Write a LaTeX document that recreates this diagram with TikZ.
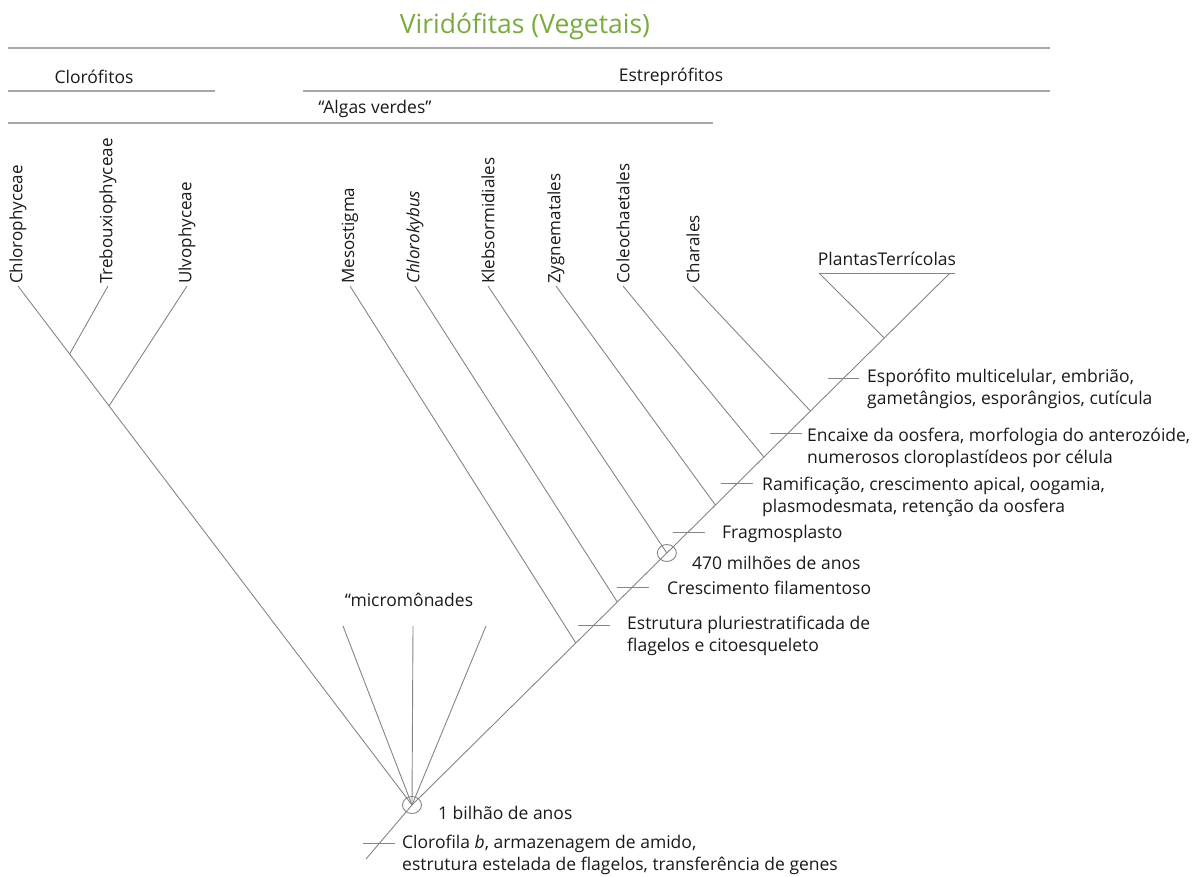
\documentclass[tikz,border=0pt]{standalone}
\usepackage{fontspec}
\setmainfont{Open Sans}
\usetikzlibrary{shapes.geometric, positioning, calc}
\definecolor{ViriGreen}{HTML}{7AAB3E}
\definecolor{TreeGray}{HTML}{858585}
\definecolor{RuleGray}{HTML}{A8A8A8}
\definecolor{TextBlack}{HTML}{1A1A1A}
\tikzset{
    % lines - all thin gray
    branch/.style={
        draw=TreeGray,
        line width=0.9pt
    },
    marker/.style={
        draw=TreeGray,
        line width=0.9pt
    },
    rule/.style={
        draw=RuleGray,
        line width=2pt
    },
    agering/.style={
        ellipse,
        draw=TreeGray,
        line width=0.9pt,
        minimum width=19pt,
        minimum height=17pt,
        inner sep=0pt
    },
    % text styles
    taxon/.style={
        rotate=90,
        anchor=west,
        inner sep=2pt,
        text=TextBlack,
        font=\fontsize{17}{20}\selectfont
    },
    group/.style={
        inner sep=0pt,
        text=TextBlack,
        font=\fontsize{17.5}{21}\selectfont
    },
    note/.style={
        anchor=west,
        align=left,
        inner sep=0pt,
        text=TextBlack,
        font=\fontsize{17.5}{21.5}\selectfont
    }
}

\begin{document}
\begin{tikzpicture}[x=1pt, y=-1pt]
    \useasboundingbox (0,0) rectangle (1200,876);

    % headings
    \node[font=\fontsize{26.5}{30}\selectfont, text=ViriGreen] (viri) at (525,27) {Viridófitas (Vegetais)};
    \draw[rule] (8,48) -- (1050,48);
    \node[group] (cloro) at (94,77) {Clorófitos};
    \draw[rule] (8,91) -- (215,91);
    \node[group] (estrep) at (671,77) {Estreprófitos};
    \draw[rule] (303,91) -- (1050,91);
    \node[group] (algas) at (375,109) {“Algas verdes”};
    \draw[rule] (8,123) -- (713,123);

    % taxa
    \node[taxon] (chlorophy) at (18,286) {Chlorophyceae};
    \node[taxon] (trebou) at (108,286) {Trebouxiophyceae};
    \node[taxon] (ulvo) at (187,286) {Ulvophyceae};
    \node[taxon] (meso) at (350,286) {Mesostigma};
    \node[taxon] (chlorok) at (415,286) {\itshape Chlorokybus};
    \node[taxon] (klebs) at (488,286) {Klebsormidiales};
    \node[taxon] (zygne) at (556,286) {Zygnematales};
    \node[taxon] (coleo) at (623,286) {Coleochaetales};
    \node[taxon] (chara) at (693,286) {Charales};
    \node[group] (plantas) at (887,259) {PlantasTerrícolas};
    \node[group] (micro) at (409,600) {“micromônades};

    % trunk
    \coordinate (base) at (366,859);
    \coordinate (root) at (412,805);
    \coordinate (apex) at (950,273);
    \draw[branch] (base) -- (root) -- (apex);
    \path (root) -- (apex)
        coordinate[pos=0.3045] (jMeso)
        coordinate[pos=0.3383] (tEstrut)
        coordinate[pos=0.3816] (jChlorok)
        coordinate[pos=0.4098] (tCresc)
        coordinate[pos=0.4737] (jKlebs)
        coordinate[pos=0.5132] (tFragmo)
        coordinate[pos=0.5639] (jZygne)
        coordinate[pos=0.6053] (tRamif)
        coordinate[pos=0.6541] (jColeo)
        coordinate[pos=0.6992] (tEncaixe)
        coordinate[pos=0.7406] (jChara)
        coordinate[pos=0.8026] (tEsporo)
        coordinate[pos=0.8778] (jPlantas);
    \path (base) -- (root) coordinate[pos=0.29] (tClorof);

    % left clade
    \draw[branch] (chlorophy.west) -- (root);
    \path (chlorophy.west) -- (root)
        coordinate[pos=0.131] (jTrebou)
        coordinate[pos=0.231] (jUlvo);
    \draw[branch] (trebou.west) -- (jTrebou);
    \draw[branch] (ulvo.west) -- (jUlvo);

    % micromonads
    \coordinate (m1) at (343,626);
    \coordinate (m2) at (413,626);
    \coordinate (m3) at (486,626);
    \draw[branch] (root) -- (m1);
    \draw[branch] (root) -- (m2);
    \draw[branch] (root) -- (m3);

    % streptophyte branches
    \draw[branch] (meso.west) -- (jMeso);
    \draw[branch] (chlorok.west) -- (jChlorok);
    \draw[branch] (klebs.west) -- (jKlebs);
    \draw[branch] (zygne.west) -- (jZygne);
    \draw[branch] (coleo.west) -- (jColeo);
    \draw[branch] (chara.west) -- (jChara);
    \coordinate (tl) at (819,273);
    \coordinate (tr) at (955,273);
    \draw[branch] (tl) -- (tr);
    \draw[branch] (tl) -- (jPlantas);

    % age rings
    \node[agering] (ring470) at (jKlebs) {};
    \node[agering] (ring1b) at (root) {};

    % character marks
    \draw[marker] ($(tClorof)+(-16,0)$) -- ($(tClorof)+(16,0)$);
    \draw[marker] ($(tEstrut)+(-16,0)$) -- ($(tEstrut)+(16,0)$);
    \draw[marker] ($(tCresc)+(-15,0)$) -- ($(tCresc)+(17,0)$);
    \draw[marker] ($(tFragmo)+(-15,0)$) -- ($(tFragmo)+(17,0)$);
    \draw[marker] ($(tRamif)+(-17,0)$) -- ($(tRamif)+(15,0)$);
    \draw[marker] ($(tEncaixe)+(-18,0)$) -- ($(tEncaixe)+(14,0)$);
    \draw[marker] ($(tEsporo)+(-16,0)$) -- ($(tEsporo)+(15,0)$);

    % character texts
    \node[note] (esporo) at (867,389) {Esporófito multicelular, embrião,\\gametângios, esporângios, cutícula};
    \node[note] (encaixe) at (807,448) {Encaixe da oosfera, morfologia do anterozóide,\\numerosos cloroplastídeos por célula};
    \node[note] (ramif) at (762,497) {Ramificação, crescimento apical, oogamia,\\plasmodesmata, retenção da oosfera};
    \node[note] (fragmo) at (722,534) {Fragmosplasto};
    \node[note] (age470) at (692,563) {470 milhões de anos};
    \node[note] (cresc) at (667,588) {Crescimento filamentoso};
    \node[note] (estrut) at (627,636) {Estrutura pluriestratificada de\\flagelos e citoesqueleto};
    \node[note] (age1b) at (438,813) {1 bilhão de anos};
    \node[note] (clorof) at (402,855) {Clorofila \textit{b}, armazenagem de amido,\\estrutura estelada de flagelos, transferência de genes};
\end{tikzpicture}
\end{document}
